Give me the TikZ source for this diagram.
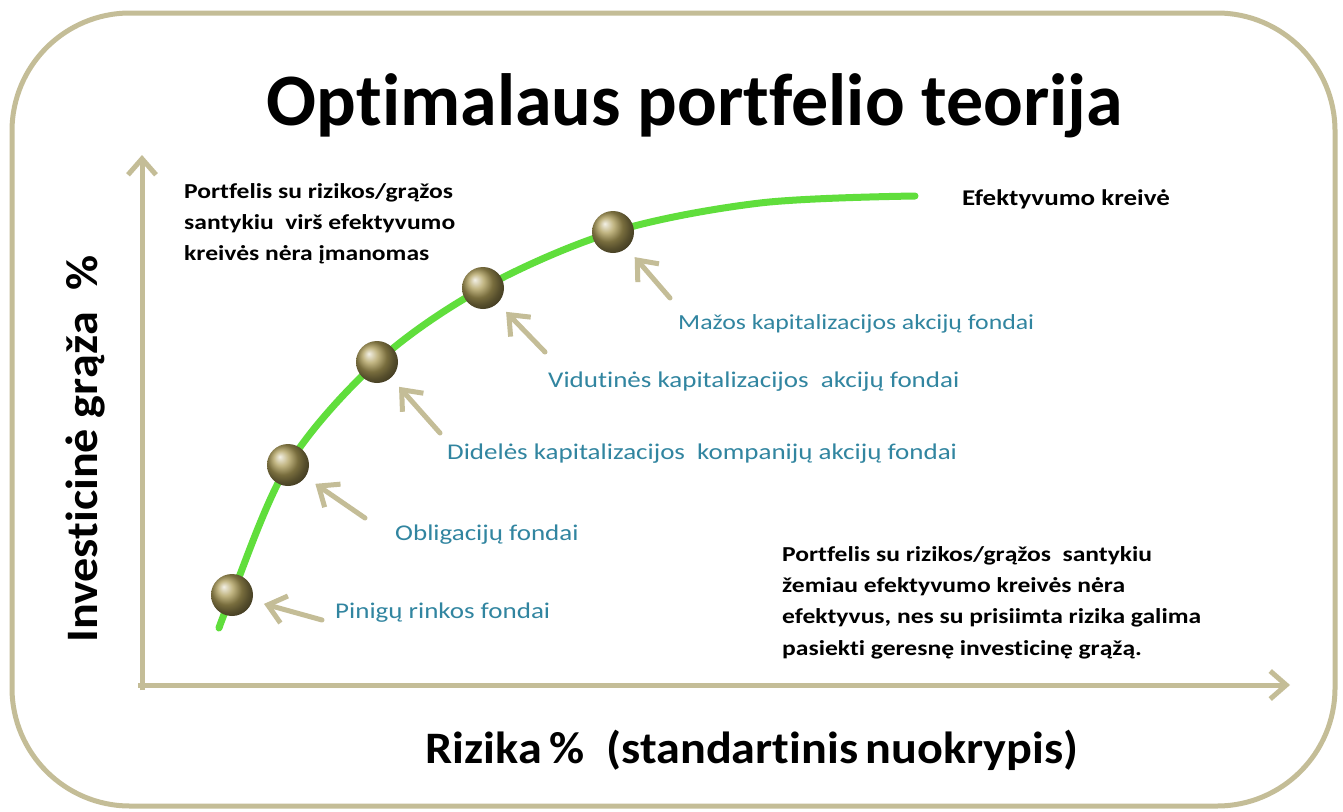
\documentclass[tikz,border=0pt]{standalone}
\usepackage{fontspec}
\setmainfont{Carlito}[Ligatures=NoCommon]
\newfontfamily\widefont{Carlito}[Ligatures=NoCommon,FakeStretch=1.2]
\newfontfamily\axisfont{Carlito}[Ligatures=NoCommon,FakeStretch=1.07]
\usetikzlibrary{arrows.meta}
\definecolor{tanline}{RGB}{196,189,151}
\definecolor{curvegreen}{RGB}{96,222,60}
\definecolor{tealtext}{RGB}{49,133,160}
\definecolor{ballolive}{RGB}{172,156,88}
\begin{document}
\begin{tikzpicture}[x=1pt,y=-1pt,
  frame/.style={draw=tanline,line width=5pt,rounded corners=118pt},
  axis/.style={draw=tanline,line width=5pt,-{Straight Barb[length=16pt,width=28pt]}},
  ptr/.style={draw=tanline,line width=5pt,line cap=round,-{Straight Barb[length=17pt,width=28pt]},shorten >=12pt},
  effcurve/.style={draw=curvegreen,line width=7pt,line cap=round},
  ball/.style={circle,minimum size=42pt,inner sep=0pt,shading=ball,ball color=ballolive},
  fund/.style={anchor=base west,inner sep=0pt,text=tealtext,font=\widefont\fontsize{22.5}{26}\selectfont},
  note/.style={anchor=north west,inner sep=0pt,align=left,font=\widefont\bfseries\fontsize{21.3}{31.3}\selectfont},
  axlabel/.style={inner sep=0pt,font=\axisfont\bfseries\fontsize{45}{50}\selectfont}]
\useasboundingbox (0,0) rectangle (1343,811);
\fill[white] (0,0) rectangle (1343,811);
\draw[frame] (12,13) rectangle (1335,806);
% title
\node[anchor=base,inner sep=0pt,font=\bfseries\fontsize{74}{80}\selectfont] (title) at (695,125) {Optimalaus portfelio teorija};
% axes
\coordinate (origin) at (142,690);
\coordinate (ytip) at (142,155);
\coordinate (xorigin) at (138,685);
\coordinate (xtip) at (1290,685);
\draw[axis] (origin) -- (ytip);
\draw[axis] (xorigin) -- (xtip);
\node[axlabel,anchor=base,rotate=90] (ylab) at (97,449) {Investicinė grąža\ \ \%};
\node[axlabel,anchor=base] (xlab) at (752,763) {Rizika\,\%\ \ (standartinis\,nuokrypis)};
% efficiency curve
\draw[effcurve] plot[smooth,tension=0.55] coordinates {(219,628) (232,595) (288,465) (377,362) (483,288) (613,232) (760,203) (915,196)};
% balls
\node[ball] (b1) at (232,595) {};
\node[ball] (b2) at (288,465) {};
\node[ball] (b3) at (377,362) {};
\node[ball] (b4) at (483,288) {};
\node[ball] (b5) at (613,232) {};
% labels
\node[fund] (l1) at (335,618) {Pinigų rinkos fondai};
\node[fund] (l2) at (395,540) {Obligacijų fondai};
\node[fund] (l3) at (447,459) {Didelės kapitalizacijos\ \ kompanijų akcijų fondai};
\node[fund] (l4) at (548,387) {Vidutinės kapitalizacijos\ \ akcijų fondai};
\node[fund,font=\widefont\fontsize{21.5}{26}\selectfont] (l5) at (678,329) {Mažos kapitalizacijos akcijų fondai};
% pointer arrows
\coordinate (a1) at (322,620);
\coordinate (a2) at (365,518);
\coordinate (a3) at (440,433);
\coordinate (a4) at (545,352);
\coordinate (a5) at (670,298);
\draw[ptr] (a1) -- (b1);
\draw[ptr] (a2) -- (b2);
\draw[ptr] (a3) -- (b3);
\draw[ptr] (a4) -- (b4);
\draw[ptr] (a5) -- (b5);
% notes
\node[note] (above) at (184,183) {Portfelis su rizikos/grąžos\\santykiu\ \ virš efektyvumo\\kreivės nėra įmanomas};
\node[anchor=base west,inner sep=0pt,font=\widefont\bfseries\fontsize{22.5}{28}\selectfont] (eff) at (962,205) {Efektyvumo kreivė};
\node[note] (below) at (782,546) {Portfelis su rizikos/grąžos\ \ santykiu\\žemiau efektyvumo kreivės nėra\\efektyvus, nes su prisiimta rizika galima\\pasiekti geresnę investicinę grąžą.};
\end{tikzpicture}
\end{document}
